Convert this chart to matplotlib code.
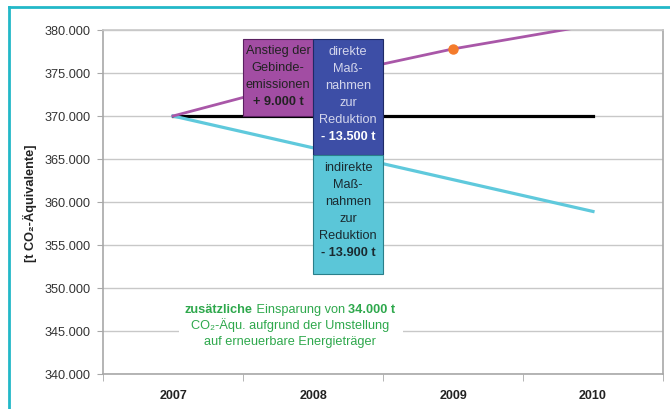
import numpy as np
import matplotlib
matplotlib.use("Agg")
import matplotlib.pyplot as plt
from matplotlib.patches import Rectangle
from matplotlib.lines import Line2D
from matplotlib.ticker import FuncFormatter, FixedLocator

plt.rcParams['font.family'] = ['Liberation Sans', 'DejaVu Sans']

years = ['2007', '2008', '2009', '2010']
basis = [370000, 370000, 370000, 370000]
mit_anstieg = [370000, 374300, 377800, 380600]
mit_reduktion = [370000, 366300, 362600, 358900]
anstieg = 9000
direkt = 13500
indirekt = 13900

c_purple_line = '#a957a8'
c_cyan_line = '#5fc9dc'
c_purple_box = '#a24da3'
c_blue_box = '#3d4ea6'
c_cyan_box = '#5bc6d8'
c_green = '#2ea84c'

fig = plt.figure(figsize=(6.7, 4.1), dpi=100)
ax = fig.add_axes([103/670, 35/410, 560/670, 344/410])

x = np.arange(len(years))
ax.plot(x, basis, color='black', lw=2.3, zorder=3)
ax.plot(x, mit_reduktion, color=c_cyan_line, lw=2.3, zorder=3)
ax.plot(x, mit_anstieg, color=c_purple_line, lw=2.0, zorder=3)
ax.plot(x[2], mit_anstieg[2], 'o', color='#f47b2b', ms=6.5, zorder=4)

# Balken um 2008
top = basis[1] + anstieg
ax.add_patch(Rectangle((0.5, basis[1]), 0.5, anstieg, facecolor=c_purple_box,
                       edgecolor='#5a2060', lw=0.8, zorder=5))
ax.add_patch(Rectangle((1.0, top - direkt), 0.5, direkt, facecolor=c_blue_box,
                       edgecolor='#1e2a66', lw=0.8, zorder=5))
ax.add_patch(Rectangle((1.0, top - direkt - indirekt), 0.5, indirekt,
                       facecolor=c_cyan_box, edgecolor='#2a7f8a', lw=0.8, zorder=5))

fs = 9.2
step = 1980

def box_text(xc, y_first, lines, color, last_color):
    for i, s in enumerate(lines):
        last = i == len(lines) - 1
        ax.text(xc, y_first - i * step, s, ha='center', va='center', fontsize=fs,
                fontweight='bold' if last else 'normal',
                color=last_color if last else color, zorder=6)

box_text(0.75, 377700, ['Anstieg der', 'Gebinde-', 'emissionen', '+ 9.000 t'],
         '#222222', '#222222')
box_text(1.25, 377550, ['direkte', 'Maß-', 'nahmen', 'zur', 'Reduktion', '- 13.500 t'],
         '#d4d6ec', 'white')
box_text(1.25, 364050, ['indirekte', 'Maß-', 'nahmen', 'zur', 'Reduktion', '- 13.900 t'],
         '#1a2a30', '#1a2a30')

# gruener Hinweis mit weissem Hintergrund
ax.add_patch(Rectangle((0.04, 342600), 1.6, 6000, facecolor='white',
                       edgecolor='none', zorder=2))

def rich_line(xc, y, parts):
    texts = []
    for s, w in parts:
        if not texts:
            t = ax.text(xc, y, s, ha='left', va='bottom', fontsize=fs,
                        fontweight=w, color=c_green, zorder=6)
        else:
            t = ax.annotate(s, xy=(1, 0), xycoords=texts[-1], ha='left',
                            va='bottom', fontsize=fs, fontweight=w,
                            color=c_green, zorder=6)
        texts.append(t)
    return texts

gx = 0.836
line1 = rich_line(gx, 346900, [('zusätzliche', 'bold'),
                               (' Einsparung von ', 'normal'),
                               ('34.000 t', 'bold')])
ax.text(gx, 345800, 'CO₂-Äqu. aufgrund der Umstellung', ha='center',
        va='center', fontsize=fs, color=c_green, zorder=6)
ax.text(gx, 343800, 'auf erneuerbare Energieträger', ha='center',
        va='center', fontsize=fs, color=c_green, zorder=6)

ax.set_xlim(-0.5, 3.5)
ax.set_ylim(340000, 380000)
ax.set_yticks(np.arange(340000, 380001, 5000))
ax.yaxis.set_major_formatter(FuncFormatter(lambda v, p: f'{int(v):,}'.replace(',', '.')))
ax.set_xticks(x)
ax.set_xticklabels(years, fontweight='bold')
ax.xaxis.set_minor_locator(FixedLocator(np.arange(-0.5, 3.6, 1)))
ax.tick_params(axis='x', which='major', length=0, pad=11, labelsize=9, labelcolor='#222222')
ax.tick_params(axis='x', which='minor', length=5, color='#a8a8a8', direction='out')
ax.tick_params(axis='y', length=4, color='#a8a8a8', labelsize=9.2, labelcolor='#333333', pad=5)
ax.grid(axis='y', color='#c8c8c8', lw=1, zorder=0)
ax.set_axisbelow(True)
for sp in ax.spines.values():
    sp.set_color('#a8a8a8')
    sp.set_linewidth(1.2)
ax.spines['top'].set_color('#c8c8c8')

ax.set_ylabel('[t CO₂-Äquivalente]', fontsize=9.2, fontweight='bold', color='#222222')
ax.yaxis.set_label_coords(-0.118, 0.5)

# Schriftzeile zentrieren
fig.canvas.draw()
r = fig.canvas.get_renderer()
b0 = line1[0].get_window_extent(r)
b1 = line1[-1].get_window_extent(r)
w = b1.x1 - b0.x0
px, py = ax.transData.transform((gx, 346900))
nx, _ = ax.transData.inverted().transform((px - w / 2, py))
line1[0].set_x(nx)

# tuerkiser Rahmen
fig.add_artist(Line2D([9/670, 1], [1 - 8/410, 1 - 8/410], transform=fig.transFigure,
                      color='#22b8c8', lw=2))
fig.add_artist(Line2D([9/670, 9/670], [0, 1 - 8/410], transform=fig.transFigure,
                      color='#22b8c8', lw=2))

fig.savefig('out.png', dpi=100)
